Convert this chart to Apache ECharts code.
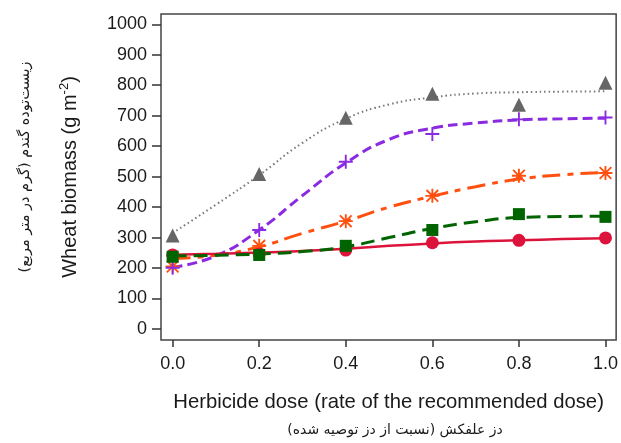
<!DOCTYPE html>
<html>
<head>
<meta charset="utf-8">
<script src="https://cdn.jsdelivr.net/npm/echarts@6/dist/echarts.min.js"></script>
<style>html,body{margin:0;padding:0;background:#fff}#c{width:621px;height:443px}</style>
</head>
<body>
<div id="c"></div>
<script>
// observed doses and means
var doses = [0, 0.2, 0.4, 0.6, 0.8, 1.0];
var grayObs   = [307, 509, 693, 772, 736, 808];
var purpleObs = [201, 325, 549, 640, 688, 694];
var orangeObs = [205, 273, 354, 437, 503, 512];
var greenObs  = [237, 243, 273, 325, 377, 368];
var redObs    = [243, 246, 259, 283, 291, 299];
// fitted curves
var fitDoses  = [0, 0.1, 0.2, 0.3, 0.4, 0.5, 0.6, 0.7, 0.8, 0.9, 1.0];
var grayFit   = [315, 408, 505, 611, 690, 737, 760, 773, 777, 779, 780];
var purpleFit = [202, 240, 325, 438, 545, 622, 659, 676, 686, 690, 692];
var orangeFit = [232, 242, 270, 314, 354, 400, 436, 467, 492, 506, 514];
var greenFit  = [240, 242, 246, 254, 270, 300, 330, 352, 366, 369, 370];
var redFit    = [244, 247, 251, 256, 263, 273, 281, 287, 291, 295, 298];
var yTicks = [0, 100, 200, 300, 400, 500, 600, 700, 800, 900, 1000];
var xTicks = [0, 0.2, 0.4, 0.6, 0.8, 1.0];

var xTitle = 'Herbicide dose (rate of the recommended dose)';
var xTitleFa = 'دز علفکش (نسبت از دز توصیه شده)';
var yTitleFa = 'زیست‌توده گندم (گرم در متر مربع)';

function pairs(xs, ys) { return xs.map(function (x, i) { return [x, ys[i]]; }); }

var plusPath = 'path://M5.2,0H6.8V5.2H12V6.8H6.8V12H5.2V6.8H0V5.2H5.2Z';
var starPath = 'path://M5.2,0H6.8V12H5.2Z M0,5.2H12V6.8H0Z M1.566,0.434L11.566,10.434L10.434,11.566L0.434,1.566Z M10.434,0.434L11.566,1.566L1.566,11.566L0.434,10.434Z';

var F = 'Liberation Sans, Arial, sans-serif';
var chart = echarts.init(document.getElementById('c'), null, {renderer: 'canvas'});

function fit(name, ys, color, type, width) {
  return {name: name, type: 'line', data: pairs(fitDoses, ys), smooth: true, symbol: 'none', clip: false,
    lineStyle: {color: color, type: type, width: width, cap: 'butt'}, silent: true, z: 2};
}
function pts(name, ys, color, symbol, size) {
  return {name: name, type: 'scatter', data: pairs(doses, ys), symbol: symbol, symbolSize: size, clip: false,
    itemStyle: {color: color, opacity: 1}, silent: true, z: 3};
}

chart.setOption({
  animation: false,
  backgroundColor: '#fff',
  grid: {left: 161, right: 2, top: 14, bottom: 103, containLabel: false,
    show: true, borderColor: '#444', borderWidth: 1.5, backgroundColor: 'transparent'},
  xAxis: {
    type: 'value', min: -0.0269, max: 1.0246,
    axisLine: {show: false, onZero: false},
    axisTick: {show: true, length: 7, customValues: xTicks, lineStyle: {color: '#333', width: 1.5}},
    splitLine: {show: false},
    axisLabel: {fontSize: 18, fontFamily: F, color: '#1a1a1a', margin: 15, customValues: xTicks,
      formatter: function (v) { return v.toFixed(1); }},
    name: xTitle, nameLocation: 'middle', nameGap: 52,
    nameTextStyle: {fontSize: 20.3, fontFamily: F, color: '#1a1a1a'}
  },
  yAxis: {
    type: 'value', min: -36.1, max: 1033.8,
    axisLine: {show: false, onZero: false},
    axisTick: {show: true, length: 9, customValues: yTicks, lineStyle: {color: '#333', width: 1.5}},
    splitLine: {show: false},
    axisLabel: {fontSize: 18, fontFamily: F, color: '#1a1a1a', margin: 14, customValues: yTicks,
      formatter: function (v) { return String(v); }},
    name: '{a|Wheat biomass (g m}{s|-2}{a|)}', nameLocation: 'middle', nameGap: 79, nameRotate: 90,
    nameTextStyle: {rich: {
      a: {fontSize: 20, fontFamily: F, color: '#1a1a1a', lineHeight: 24},
      s: {fontSize: 13, fontFamily: F, color: '#1a1a1a', verticalAlign: 'top', lineHeight: 24}
    }}
  },
  graphic: [
    {type: 'text', x: 395, y: 430, silent: true,
      style: {text: xTitleFa, fontSize: 14, fontFamily: 'DejaVu Sans', fill: '#1a1a1a', textAlign: 'center', textVerticalAlign: 'middle'}},
    {type: 'text', x: 25, y: 167, rotation: Math.PI / 2, silent: true,
      style: {text: yTitleFa, fontSize: 14.5, fontFamily: 'DejaVu Sans', fill: '#1a1a1a', textAlign: 'center', textVerticalAlign: 'middle'}}
  ],
  series: [
    fit('grayFit', grayFit, '#777', [1.5, 3], 2),
    fit('orangeFit', orangeFit, '#ff5010', [18, 7, 6, 7], 3),
    fit('purpleFit', purpleFit, '#8a2be2', [10, 5], 3),
    fit('redFit', redFit, '#dc143c', 'solid', 2.5),
    fit('greenFit', greenFit, '#006400', [14, 7], 3),
    pts('gray', grayObs, '#666', 'triangle', 14),
    pts('orange', orangeObs, '#ff5010', starPath, 14),
    pts('purple', purpleObs, '#8a2be2', plusPath, 14),
    pts('red', redObs, '#dc143c', 'circle', 13),
    pts('green', greenObs, '#006400', 'rect', 12)
  ]
});
</script>
</body>
</html>
